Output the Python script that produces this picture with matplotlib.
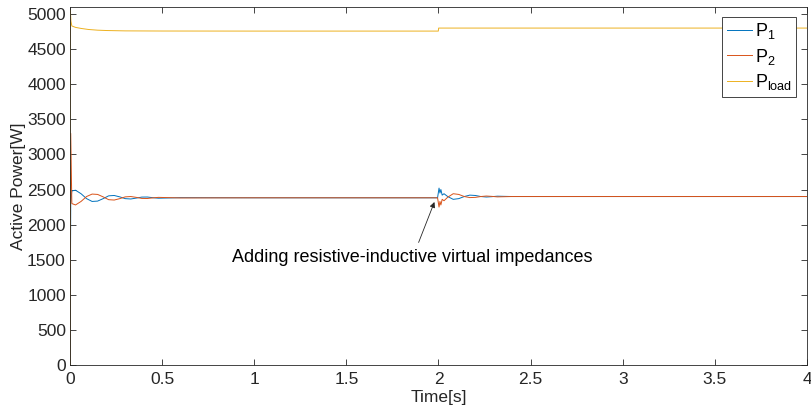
import matplotlib
matplotlib.use("Agg")
import matplotlib.pyplot as plt

plt.rcParams['font.family'] = ['Liberation Sans', 'DejaVu Sans']
plt.rcParams['mathtext.default'] = 'regular'

# Time samples (s) and active power (W)
t_p = [0, 0.004, 0.01, 0.03, 0.06, 0.09, 0.12, 0.15, 0.18, 0.21, 0.24, 0.27, 0.30,
       0.33, 0.36, 0.39, 0.42, 0.45, 0.48, 0.51, 0.6, 1.0, 1.995,
       2.003, 2.008, 2.013, 2.02, 2.03, 2.05, 2.08, 2.11, 2.14, 2.17, 2.20, 2.23,
       2.26, 2.29, 2.32, 2.35, 2.4, 3.0, 4.0]
p1 = [0, 2300, 2480, 2490, 2440, 2370, 2330, 2335, 2370, 2410, 2415, 2395, 2370,
      2365, 2378, 2392, 2393, 2383, 2376, 2378, 2384, 2382, 2382,
      2520, 2450, 2500, 2420, 2440, 2400, 2360, 2370, 2400, 2420, 2415, 2400,
      2393, 2398, 2405, 2403, 2400, 2400, 2400]
p2 = [0, 3300, 2300, 2280, 2330, 2400, 2435, 2430, 2395, 2355, 2350, 2370, 2395,
      2400, 2388, 2373, 2372, 2381, 2388, 2386, 2380, 2382, 2382,
      2250, 2330, 2280, 2360, 2340, 2390, 2440, 2430, 2400, 2385, 2388, 2400,
      2407, 2402, 2395, 2397, 2400, 2400, 2400]
t_load = [0, 0.002, 0.005, 0.01, 0.03, 0.06, 0.1, 0.15, 0.2, 0.3, 0.5, 1.0, 1.999,
          2.001, 2.02, 4.0]
p_load = [0, 5050, 4900, 4830, 4810, 4795, 4780, 4770, 4765, 4760, 4758, 4757, 4757,
          4800, 4800, 4800]

xticks = [0, 0.5, 1, 1.5, 2, 2.5, 3, 3.5, 4]
xticklabels = ['0', '0.5', '1', '1.5', '2', '2.5', '3', '3.5', '4']
yticks = list(range(0, 5001, 500))

fig = plt.figure(figsize=(8.12, 4.15), dpi=100)
ax = fig.add_axes([0.0862, 0.1205, 0.9076, 0.8626])

ax.plot(t_p, p1, color='#0072BD', lw=0.7, label='P$_1$')
ax.plot(t_p, p2, color='#D95319', lw=0.7, label='P$_2$')
ax.plot(t_load, p_load, color='#EDB120', lw=0.7, label='P$_{load}$')

ax.set_xlim(0, 4)
ax.set_ylim(0, 5100)
ax.set_xticks(xticks)
ax.set_xticklabels(xticklabels)
ax.set_yticks(yticks)
ax.tick_params(direction='in', top=True, right=True, length=4, width=0.6,
               labelsize=12.5, colors='#262626')
ax.tick_params(axis='x', pad=5)
ax.tick_params(axis='y', pad=3)
for s in ax.spines.values():
    s.set_color('#262626')
    s.set_linewidth(0.6)

ax.set_xlabel('Time[s]', fontsize=12.5, color='#262626', labelpad=2)
ax.set_ylabel('Active Power[W]', fontsize=12.5, color='#262626', labelpad=1)

ax.annotate('Adding resistive-inductive virtual impedances',
            xy=(1.978, 2322), xytext=(1.86, 1530),
            ha='center', va='center', fontsize=13,
            arrowprops=dict(arrowstyle='-|>', color='#262626', lw=0.6,
                            mutation_scale=8, shrinkA=3, shrinkB=0))

leg = ax.legend(loc='upper right', fontsize=13, handlelength=1.4,
                handletextpad=0.15, borderpad=0.25, labelspacing=0.3,
                fancybox=False, framealpha=1, bbox_to_anchor=(0.998, 0.998))
leg.get_frame().set_edgecolor('#262626')
leg.get_frame().set_linewidth(0.6)

fig.savefig('out.png', dpi=100)
